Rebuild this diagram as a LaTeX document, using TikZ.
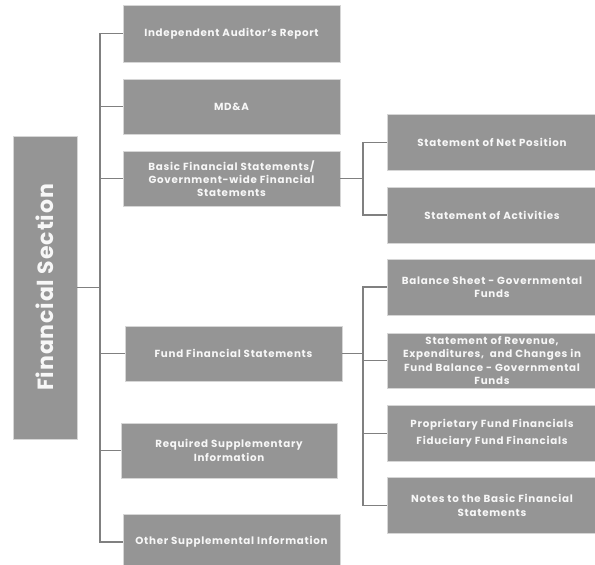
\documentclass[tikz,border=0pt]{standalone}
\usepackage{fontspec}
\setmainfont{Poppins}
\definecolor{boxgray}{HTML}{959595}
\definecolor{boxedge}{HTML}{D6D6D6}
\definecolor{linegray}{HTML}{808080}
\definecolor{txt}{HTML}{F7F7F7}
\begin{document}
\begin{tikzpicture}[x=1pt,y=-1pt,
  box/.style={rectangle, fill=boxgray, draw=boxedge, line width=0.6pt, text=txt,
    font=\bfseries\fontsize{10.3}{13.3}\selectfont\addfontfeature{LetterSpace=7}, align=center, inner sep=2pt},
  mid/.style={box, minimum width=217pt, minimum height=55pt},
  rgt/.style={box, minimum width=210pt, minimum height=56pt},
  conn/.style={draw=linegray, line width=1.6pt}]
\useasboundingbox (0,0) rectangle (595,565);
% left title box
\node[box, minimum width=64pt, minimum height=303pt] (fs) at (45,287.5) {};
\node[rotate=90, text=txt, font=\bfseries\fontsize{22}{26}\selectfont\addfontfeature{LetterSpace=4}] (fst) at (fs.center) {Financial Section};
% middle column
\node[mid, minimum height=57pt] (iar) at (231.5,33.5) {Independent Auditor's Report};
\node[mid] (mda) at (231.5,106.5) {MD\&A};
\node[mid] (bfs) at (231.5,178.5) {Basic Financial Statements/\\Government-wide Financial\\Statements};
\node[mid] (ffs) at (233.5,353.5) {Fund Financial Statements};
\node[mid, minimum width=216pt] (rsi) at (229,450.5) {Required Supplementary\\Information};
\node[mid, minimum height=56pt] (osi) at (231.5,542) {Other Supplemental Information};
% right column
\node[rgt] (snp) at (492,142.5) {Statement of Net Position};
\node[rgt] (sa)  at (492,215) {Statement of Activities};
\node[rgt] (bs)  at (492,287) {Balance Sheet - Governmental\\Funds};
\node[rgt, minimum height=55pt] (rev) at (492,360.5) {Statement of Revenue,\\Expenditures,~ and Changes in\\Fund Balance - Governmental\\Funds};
\node[rgt, font=\bfseries\fontsize{10.3}{17.3}\selectfont\addfontfeature{LetterSpace=7}] (pf)  at (492,433.5) {Proprietary Fund Financials\\Fiduciary Fund Financials};
\node[rgt] (nt)  at (492,505.5) {Notes to the Basic Financial\\Statements};
% trunk coordinates
\coordinate (t1) at (100,0);
\coordinate (t2) at (363,0);
% main trunk
\draw[conn] (fs.east) -- (fs.east -| t1);
\draw[conn] (iar.west) -- (iar.west -| t1) -- (osi.west -| t1) -- (osi.west);
\draw[conn] (mda.west) -- (mda.west -| t1);
\draw[conn] (bfs.west) -- (bfs.west -| t1);
\draw[conn] (ffs.west) -- (ffs.west -| t1);
\draw[conn] (rsi.west) -- (rsi.west -| t1);
% basic statements branch
\draw[conn] (bfs.east) -- (bfs.east -| t2);
\draw[conn] (snp.west) -- (snp.west -| t2) -- (sa.west -| t2) -- (sa.west);
% fund statements branch
\draw[conn] (ffs.east) -- (ffs.east -| t2);
\draw[conn] (bs.west) -- (bs.west -| t2) -- (nt.west -| t2) -- (nt.west);
\draw[conn] (rev.west) -- (rev.west -| t2);
\draw[conn] (pf.west) -- (pf.west -| t2);
\end{tikzpicture}
\end{document}
